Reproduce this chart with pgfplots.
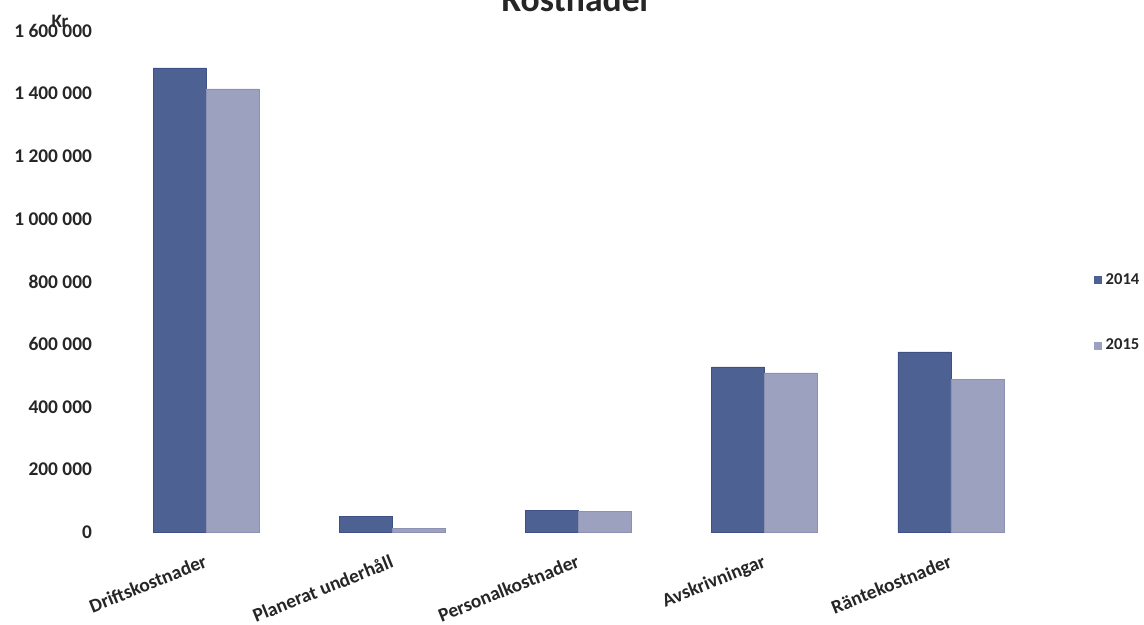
\documentclass[border=0pt]{standalone}
\usepackage{pgfplots}
\pgfplotsset{compat=1.18}
\usepackage{fontspec}
\setmainfont{Carlito}
\definecolor{darkbar}{HTML}{4E6193}
\definecolor{darkedge}{HTML}{3E5085}
\definecolor{lightbar}{HTML}{9DA1C0}
\definecolor{lightedge}{HTML}{8C91B4}
\definecolor{txt}{HTML}{262626}
\begin{document}
\begin{tikzpicture}
\path[use as bounding box] (-56.5pt,-46.5pt) rectangle (515.5pt,266pt);
\begin{axis}[
  at={(0,0)}, anchor=south west,
  scale only axis, width=465.5pt, height=250.5pt,
  ybar=0pt, bar width=26.5pt,
  xmin=-0.5, xmax=4.5, ymin=0, ymax=1600000,
  axis line style={draw=none}, major tick length=0pt,
  xtick=data,
  xticklabels={Driftskostnader,Planerat underhåll,Personalkostnader,Avskrivningar,Räntekostnader},
  ytick={0,200000,400000,600000,800000,1000000,1200000,1400000,1600000},
  yticklabels={0,200 000,400 000,600 000,800 000,1 000 000,1 200 000,1 400 000,1 600 000},
  scaled y ticks=false,
  tick label style={font=\fontsize{9.7pt}{11pt}\selectfont\bfseries, text=txt},
  yticklabel style={anchor=east, xshift=-7pt},
  xticklabel style={rotate=22, anchor=north east, yshift=-6pt, xshift=-2pt},
  legend style={at={(1.08,0.437)}, anchor=center, draw=none, fill=none,
    font=\fontsize{8.3pt}{9pt}\selectfont\bfseries, text=txt, row sep=22pt,
    legend cell align=left},
  legend image code/.code={\fill[#1,draw=none] (0pt,-2pt) rectangle (4pt,2pt);},
  clip=false,
]
\addplot[fill=darkbar, draw=darkedge, line width=0.4pt] coordinates {(0,1482000) (1,51000) (2,70000) (3,527000) (4,575000)};
\addplot[fill=lightbar, draw=lightedge, line width=0.4pt] coordinates {(0,1415000) (1,10000) (2,67000) (3,508000) (4,486000)};
\legend{2014,2015}
\node[font=\fontsize{9.5pt}{11pt}\selectfont\bfseries, text=txt] at (rel axis cs:0,1) [xshift=-26.5pt, yshift=5pt] {Kr};
\end{axis}
\node[font=\fontsize{17.8pt}{20pt}\selectfont\bfseries, text=txt, anchor=base] at (232pt,260pt) {Kostnader};
\end{tikzpicture}
\end{document}
